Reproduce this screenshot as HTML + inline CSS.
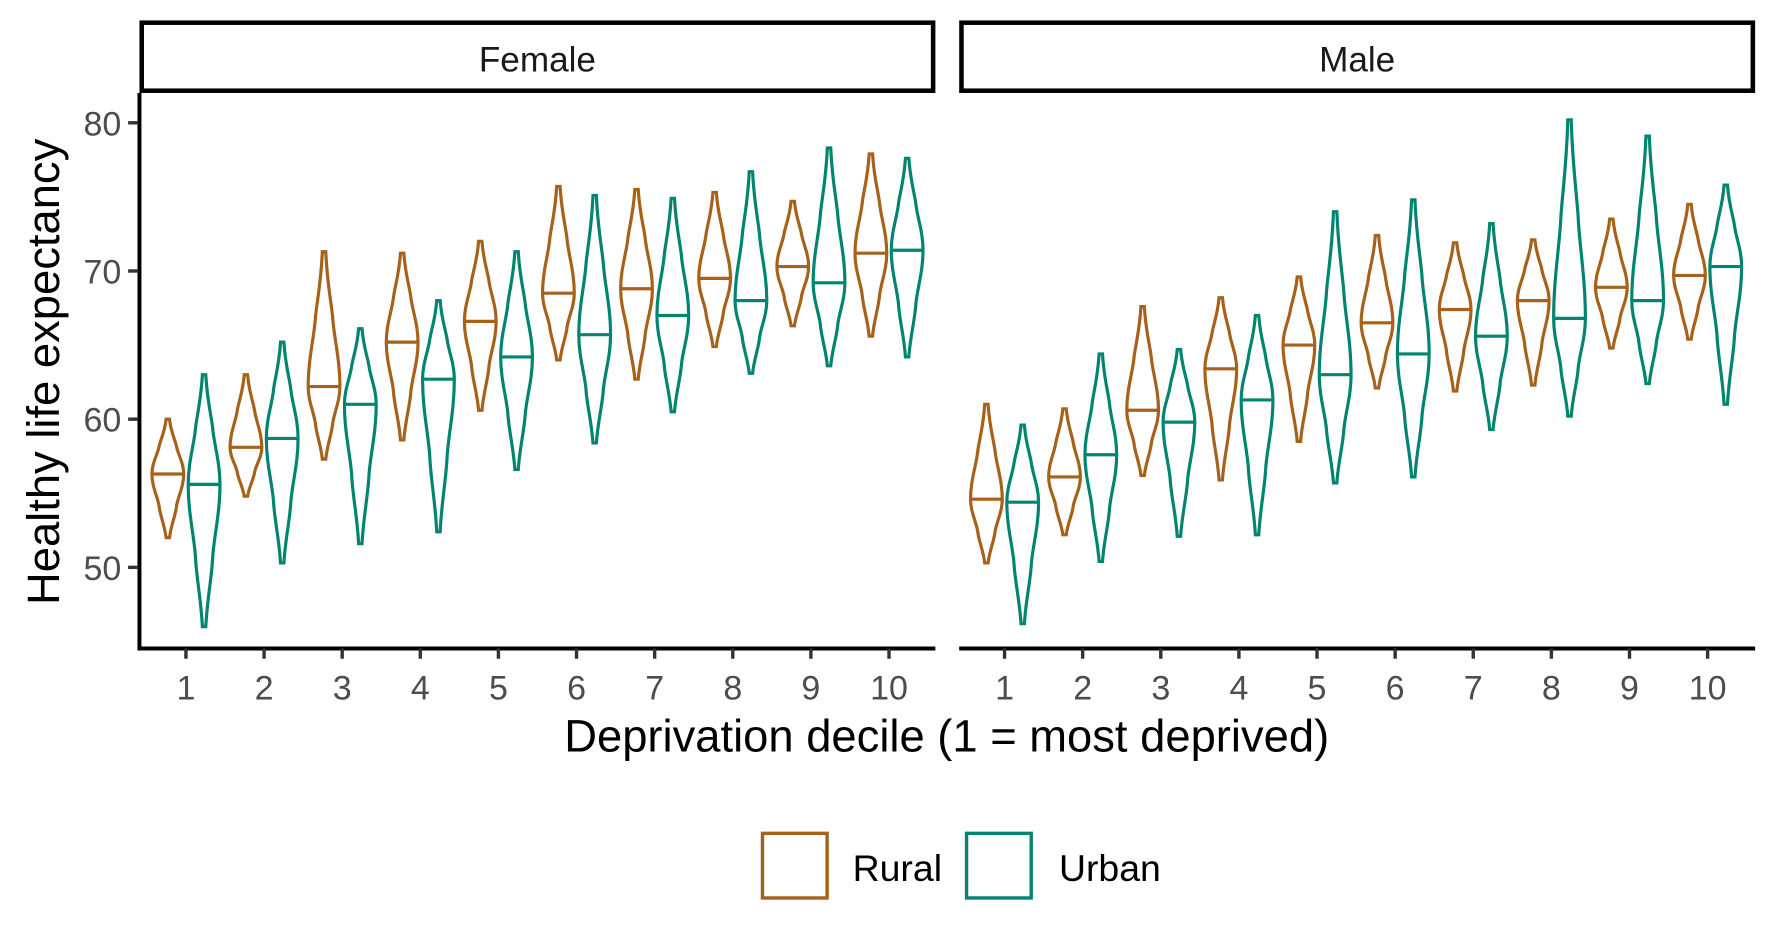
<!DOCTYPE html>
<html><head><meta charset="utf-8"><style>
html,body{margin:0;padding:0;background:#fff;}
svg{display:block;font-family:"Liberation Sans",sans-serif;}
</style></head><body>
<svg id="chart" width="1771" height="944" viewBox="0 0 1562 832.6" xmlns="http://www.w3.org/2000/svg">
<g id="root"></g>
</svg>
<script>
const deciles = [1,2,3,4,5,6,7,8,9,10];
const yTicks = [50,60,70,80];
// Female rural
const fRuralMin = [52,54.8,57.3,58.6,60.6,64,62.7,64.9,66.3,65.6];
const fRuralMax = [60,63,71.3,71.2,72,75.7,75.5,75.3,74.7,77.9];
const fRuralMed = [56.3,58.1,62.2,65.2,66.6,68.5,68.8,69.5,70.3,71.2];
// Female urban
const fUrbanMin = [46,50.3,51.6,52.4,56.6,58.4,60.5,63.1,63.6,64.2];
const fUrbanMax = [63,65.2,66.1,68,71.3,75.1,74.9,76.7,78.3,77.6];
const fUrbanMed = [55.6,58.7,61,62.7,64.2,65.7,67,68,69.2,71.4];
// Male rural
const mRuralMin = [50.3,52.2,56.2,55.9,58.5,62.1,61.9,62.3,64.8,65.4];
const mRuralMax = [61,60.7,67.6,68.2,69.6,72.4,71.9,72.1,73.5,74.5];
const mRuralMed = [54.6,56.1,60.6,63.4,65,66.5,67.4,68,68.9,69.7];
// Male urban
const mUrbanMin = [46.2,50.4,52.1,52.2,55.7,56.1,59.3,60.2,62.4,61];
const mUrbanMax = [59.6,64.4,64.7,67,74,74.8,73.2,80.2,79.1,75.8];
const mUrbanMed = [54.4,57.6,59.8,61.3,63,64.4,65.6,66.8,68,70.3];

const RURAL="#A6611A", URBAN="#018571";
const NS="http://www.w3.org/2000/svg";
const root=document.getElementById('root');
function el(tag,attrs,parent){const e=document.createElementNS(NS,tag);for(const k in attrs)e.setAttribute(k,attrs[k]);(parent||root).appendChild(e);return e;}
const yScale=v=>239-(v-70)*13.07;
const panels=[{name:'Female',x0:123,x1:825,tick1:164,rural:[fRuralMin,fRuralMax,fRuralMed],urban:[fUrbanMin,fUrbanMax,fUrbanMed]},
              {name:'Male',x0:846,x1:1548,tick1:886,rural:[mRuralMin,mRuralMax,mRuralMed],urban:[mUrbanMin,mUrbanMax,mUrbanMed]}];
function violinPath(cx,mn,mx,md,w){
  const yMin=yScale(mn),yMax=yScale(mx),yMed=yScale(md);
  const yLo=(yMin+yMed)/2,yHi=(yMed+yMax)/2;
  const a=0.55,b=0.55;
  let d=`M${cx-1.5},${yMax} L${cx+1.5},${yMax}`;
  d+=` C${cx+w*0.2},${yMax+(yHi-yMax)*0.5} ${cx+w*a*0.9},${yHi-(yHi-yMax)*0.2} ${cx+w*a},${yHi}`;
  d+=` C${cx+w*(a+0.1)},${yHi+(yMed-yHi)*0.3} ${cx+w},${yMed-(yMed-yHi)*0.4} ${cx+w},${yMed}`;
  d+=` C${cx+w},${yMed+(yLo-yMed)*0.4} ${cx+w*(b+0.1)},${yLo-(yLo-yMed)*0.3} ${cx+w*b},${yLo}`;
  d+=` C${cx+w*b*0.9},${yLo+(yMin-yLo)*0.3} ${cx+w*0.2},${yMin-(yMin-yLo)*0.4} ${cx+1.5},${yMin}`;
  d+=` L${cx-1.5},${yMin}`;
  d+=` C${cx-w*0.2},${yMin-(yMin-yLo)*0.4} ${cx-w*b*0.9},${yLo+(yMin-yLo)*0.3} ${cx-w*b},${yLo}`;
  d+=` C${cx-w*(b+0.1)},${yLo-(yLo-yMed)*0.3} ${cx-w},${yMed+(yLo-yMed)*0.4} ${cx-w},${yMed}`;
  d+=` C${cx-w},${yMed-(yMed-yHi)*0.4} ${cx-w*(a+0.1)},${yHi+(yMed-yHi)*0.3} ${cx-w*a},${yHi}`;
  d+=` C${cx-w*a*0.9},${yHi-(yHi-yMax)*0.2} ${cx-w*0.2},${yMax+(yHi-yMax)*0.5} ${cx-1.5},${yMax} Z`;
  return d;
}
panels.forEach(p=>{
  const g=el('g',{});
  
  
  const strip=el('rect',{x:p.x0+2,y:20,width:p.x1-p.x0-4,height:60,fill:'#fff',stroke:'#000','stroke-width':4},g);
  
  
  const st=el('text',{x:(p.x0+p.x1)/2,y:63,'text-anchor':'middle','font-size':31,fill:'#1a1a1a'},g);
  st.textContent=p.name;
  
  
  const xs=d=>p.tick1+(d-1)*68.9;
  const xa=el('line',{x1:p.x0,x2:p.x1,y1:572,y2:572,stroke:'#000','stroke-width':3.5},g);
  
  
  deciles.forEach(d=>{
    el('line',{x1:xs(d),x2:xs(d),y1:572,y2:581,stroke:'#333','stroke-width':3},g);
    const t=el('text',{x:xs(d),y:617,'text-anchor':'middle','font-size':30,fill:'#4d4d4d'},g);
    t.textContent=d;
    
    
  });
  [['rural',p.rural,RURAL,-16],['urban',p.urban,URBAN,16]].forEach(([nm,arr,col,off])=>{
    deciles.forEach((d,i)=>{
      const cx=xs(d)+off;
      const path=el('path',{d:violinPath(cx,arr[0][i],arr[1][i],arr[2][i],14),fill:'none',stroke:col,'stroke-width':2.8},g);
      
      
      const ym=yScale(arr[2][i]);
      const ml=el('line',{x1:cx-13,x2:cx+13,y1:ym,y2:ym,stroke:col,'stroke-width':2.8},g);
      
      
    });
  });
});
const ya=el('line',{x1:123,x2:123,y1:82,y2:573.7,stroke:'#000','stroke-width':3.5});


yTicks.forEach(v=>{
  el('line',{x1:113,x2:122,y1:yScale(v),y2:yScale(v),stroke:'#333','stroke-width':3});
  const t=el('text',{x:107,y:yScale(v)+11,'text-anchor':'end','font-size':30,fill:'#4d4d4d'});
  t.textContent=v;
  
  
});
const yt=el('text',{x:0,y:0,transform:'translate(52,328) rotate(-90)','text-anchor':'middle','font-size':40,fill:'#000'});
yt.textContent='Healthy life expectancy';


const xt=el('text',{x:835,y:663,'text-anchor':'middle','font-size':40,fill:'#000'});
xt.textContent='Deprivation decile (1 = most deprived)';


[['Rural',RURAL,671,752],['Urban',URBAN,851,934]].forEach(([nm,col,bx,tx])=>{
  const r=el('rect',{x:bx+1.5,y:735,width:57,height:57,fill:'#fff',stroke:col,'stroke-width':3});
  
  
  const t=el('text',{x:tx,y:777,'font-size':33,fill:'#000'});
  t.textContent=nm;
  
  
});
</script>
</body></html>
